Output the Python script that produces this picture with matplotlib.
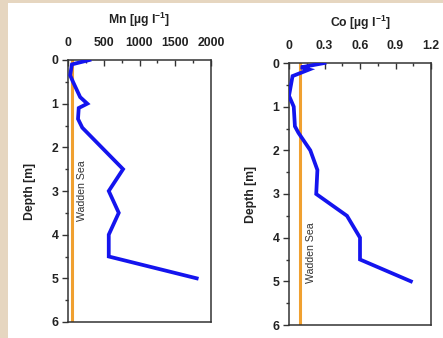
import matplotlib
matplotlib.use("Agg")
import matplotlib.pyplot as plt
from matplotlib.patches import Rectangle
from matplotlib.ticker import MultipleLocator

plt.rcParams['font.family'] = ['Liberation Sans', 'DejaVu Sans']
plt.rcParams['mathtext.fontset'] = 'custom'
plt.rcParams['mathtext.rm'] = 'Liberation Sans'
plt.rcParams['mathtext.bf'] = 'Liberation Sans:bold'

# Data
mn_depth = [0.0, 0.1, 0.35, 0.5, 0.85, 1.0, 1.1, 1.35, 1.55, 2.5, 3.0, 3.5, 4.0, 4.5, 5.0]
mn_value = [300, 55, 30, 70, 170, 270, 150, 140, 200, 770, 570, 710, 570, 570, 1800]
mn_wadden = 55

co_depth = [0.0, 0.1, 0.15, 0.3, 0.75, 1.0, 1.45, 1.6, 2.0, 2.45, 3.0, 3.5, 4.0, 4.5, 5.0]
co_value = [0.30, 0.10, 0.17, 0.03, 0.0, 0.04, 0.05, 0.08, 0.18, 0.24, 0.23, 0.49, 0.60, 0.60, 1.03]
co_wadden = 0.095

W, H = 443, 338
fig = plt.figure(figsize=(W / 100, H / 100), dpi=100)
fig.patch.set_facecolor("#e6d6c0")
fig.patches.append(Rectangle((8 / W, 0), 1 - 8 / W, 1 - 3 / H, transform=fig.transFigure,
                             facecolor="white", edgecolor="none", zorder=-10))

def ax_rect(x0, x1, y0, y1):
    return [x0 / W, 1 - y1 / H, (x1 - x0) / W, (y1 - y0) / H]

spine_c = "#333333"
FS = 8.8

def setup(ax, xmax, xmajor, xlabel, wadden, val, dep, text_x, text_y):
    ax.set_zorder(1)
    ax.plot([wadden, wadden], [0, 6], color="#f0a030", lw=2.2, zorder=2)
    ax.plot(val, dep, color="#1414ee", lw=2.7, zorder=3, solid_joinstyle="miter")
    ax.set_xlim(0, xmax)
    ax.set_ylim(6, 0)
    ax.xaxis.set_ticks_position("top")
    ax.xaxis.set_label_position("top")
    ax.xaxis.set_major_locator(MultipleLocator(xmajor))
    ax.xaxis.set_minor_locator(MultipleLocator(xmajor / 2))
    ax.yaxis.set_major_locator(MultipleLocator(1))
    ax.yaxis.set_minor_locator(MultipleLocator(0.5))
    ax.tick_params(axis="x", which="both", direction="in", colors=spine_c, labelcolor="#222222",
                   labelsize=FS, pad=8)
    ax.tick_params(axis="x", which="major", length=4, width=1)
    ax.tick_params(axis="x", which="minor", length=2.5, width=1)
    ax.tick_params(axis="y", which="both", direction="out", colors=spine_c, labelcolor="#222222",
                   labelsize=FS, pad=3)
    ax.tick_params(axis="y", which="major", length=4, width=1)
    ax.tick_params(axis="y", which="minor", length=2.5, width=1)
    for s in ax.spines.values():
        s.set_color(spine_c)
        s.set_linewidth(1.1)
    ax.set_xlabel(xlabel, fontsize=FS, fontweight="bold", labelpad=9, color="#222222")
    ax.set_ylabel("Depth [m]", fontsize=FS, fontweight="bold", labelpad=11, color="#222222")
    ax.text(text_x, text_y, "Wadden Sea", rotation=90, fontsize=7.6, color="#333333",
            ha="center", va="center", zorder=4)

ax1 = fig.add_axes(ax_rect(68, 211, 60, 322))
setup(ax1, 2000, 500, "Mn [µg l$^{\\mathbf{-1}}$]", mn_wadden, mn_value, mn_depth, 200, 3.0)
ax1.set_xticks([0, 500, 1000, 1500, 2000])
ax1.set_xticklabels(["0", "500", "1000", "1500", "2000"], fontweight="bold")
ax1.set_yticks(range(7))
ax1.set_yticklabels([str(i) for i in range(7)], fontweight="bold")

ax2 = fig.add_axes(ax_rect(289, 431, 63, 325))
setup(ax2, 1.2, 0.3, "Co [µg l$^{\\mathbf{-1}}$]", co_wadden, co_value, co_depth, 0.19, 4.35)
ax2.set_xticks([0, 0.3, 0.6, 0.9, 1.2])
ax2.set_xticklabels(["0", "0.3", "0.6", "0.9", "1.2"], fontweight="bold")
ax2.set_yticks(range(7))
ax2.set_yticklabels([str(i) for i in range(7)], fontweight="bold")

fig.savefig("out.png", dpi=100, facecolor=fig.get_facecolor())
